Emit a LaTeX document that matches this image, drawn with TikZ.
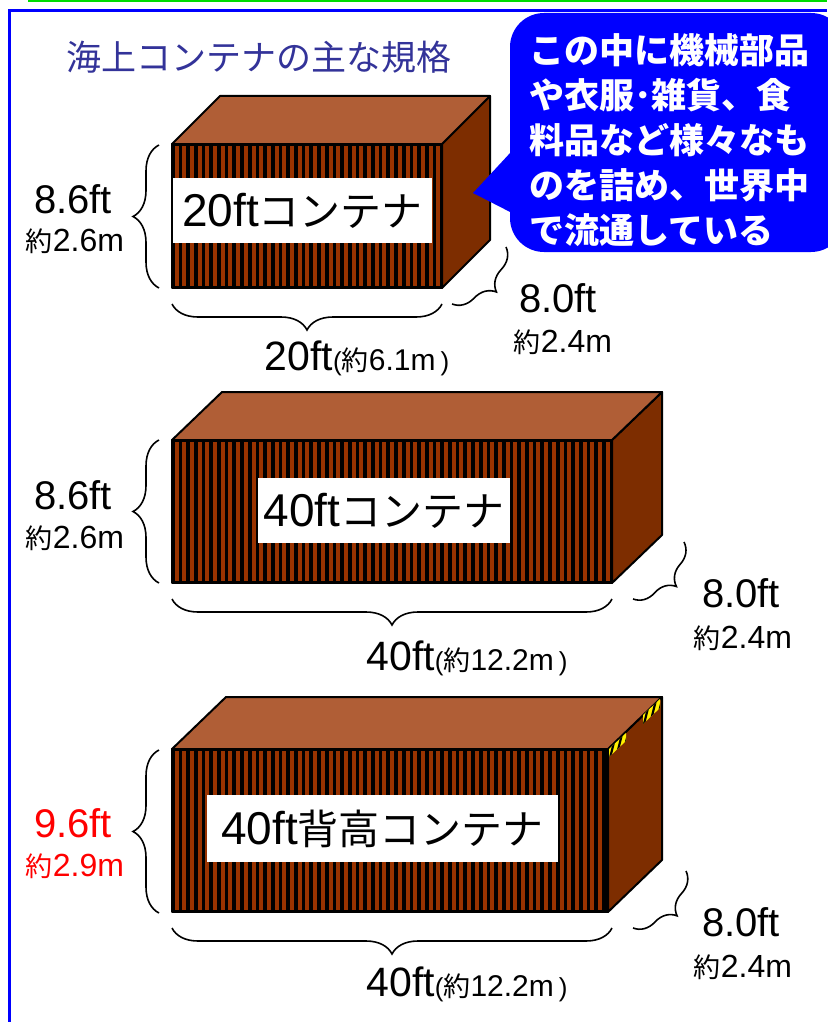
\documentclass[tikz,border=0pt]{standalone}
\usepackage{fontspec}
\setmainfont{Liberation Sans}
\newfontfamily\jp{Noto Sans CJK JP}
\usetikzlibrary{decorations.pathreplacing}

\definecolor{topbrown}{RGB}{176,94,54}
\definecolor{sidebrown}{RGB}{125,45,0}
\definecolor{ribbrown}{RGB}{153,51,0}
\definecolor{titleblue}{RGB}{51,51,153}
\definecolor{memoblue}{RGB}{0,0,255}
\definecolor{framegreen}{RGB}{0,220,0}
\definecolor{hazard}{RGB}{255,240,0}

\newcommand{\fsz}[1]{\fontsize{#1}{#1}\selectfont}

\begin{document}
\begin{tikzpicture}[x=1pt,y=-1pt,
	edge/.style={draw=black,line width=2pt,line join=round},
	topface/.style={edge,fill=topbrown},
	sideface/.style={edge,fill=sidebrown},
	rib/.style={fill=ribbrown},
	namebox/.style={fill=white,inner sep=0pt},
	dimbrace/.style={decorate,decoration={brace,amplitude=26pt},line width=1.6pt},
	depthbrace/.style={decorate,decoration={brace,amplitude=24pt},line width=1.6pt},
	bigtxt/.style={font=\fsz{40}},
	subtxt/.style={font=\fsz{32}}]
		\useasboundingbox (0,0) rectangle (827,1022);
		% Draw frame
		\draw [framegreen, line width=3pt] (28,1) -- (827,1);
		\draw [memoblue, line width=3pt] (827,11) -- (9.5,11) -- (9.5,1022);
		\node [font=\jp\fsz{35}, text=titleblue] (title) at (259,57) {海上コンテナの主な規格};

		% Draw 20ft container
		\coordinate (a1) at (172,144);
		\coordinate (c1) at (442,288);
		\draw [sideface] (442,144) -- ++(48,-48) -- ++(0,144) -- (c1) -- cycle;
		\draw [topface] (a1) -- ++(48,-48) -- ++(270,0) -- (442,144) -- cycle;
		\fill [black] (a1) rectangle (c1);
		\foreach \s in {0,...,34}
			\fill [rib] ({174.5+7.7*\s},146) rectangle ++(4,140);
		\draw [edge] (a1) rectangle (c1);
		\node [namebox, minimum width=259pt, minimum height=65pt] (n20) at (302.5,210.5)
			{\fsz{46}20ft{\jp\fsz{41}コンテナ}};

		% Draw 40ft container
		\coordinate (a2) at (172,440);
		\coordinate (c2) at (612,583);
		\draw [sideface] (612,440) -- ++(50,-48) -- ++(0,143) -- (c2) -- cycle;
		\draw [topface] (a2) -- ++(50,-48) -- ++(440,0) -- (612,440) -- cycle;
		\fill [black] (a2) rectangle (c2);
		\foreach \s in {0,...,56}
			\fill [rib] ({174.5+7.7*\s},442) rectangle ++(4,139);
		\draw [edge] (a2) rectangle (c2);
		\node [namebox, minimum width=252pt, minimum height=65pt] (n40) at (384,510.5)
			{\fsz{46}40ft{\jp\fsz{41}コンテナ}};

		% Draw 40ft high cube container
		\coordinate (a3) at (172,749);
		\coordinate (c3) at (608,912);
		\draw [sideface] (608,749) -- ++(54,-52) -- ++(0,163) -- (c3) -- cycle;
		\draw [topface] (a3) -- ++(54,-52) -- ++(436,0) -- (608,749) -- cycle;
		\fill [black] (a3) rectangle (c3);
		\foreach \s in {0,...,55}
			\fill [rib] ({174.5+7.7*\s},751) rectangle ++(4,159);
		\draw [edge] (a3) rectangle (c3);
		\node [namebox, minimum width=351pt, minimum height=67pt] (n40hc) at (382.5,828.5)
			{\fsz{46}40ft{\jp\fsz{41}背高コンテナ}};
		% hazard marks on the corner
		\begin{scope}
			\clip (609,749) -- (626,733) -- (626,741) -- (609,757) -- cycle;
			\fill [hazard] (600,725) rectangle (635,760);
			\foreach \s in {0,1,2}
				\draw [black, line width=2.2pt] ({609+6*\s},762) -- ({617+6*\s},730);
		\end{scope}
		\begin{scope}
			\clip (643,715) -- (660,699) -- (660,708) -- (643,724) -- cycle;
			\fill [hazard] (635,690) rectangle (665,730);
			\foreach \s in {0,1,2}
				\draw [black, line width=2.2pt] ({643+6*\s},728) -- ({651+6*\s},696);
		\end{scope}

		% Draw heights
		\draw [dimbrace] (159,288) -- (159,145);
		\node [bigtxt] (h20) at (73,199) {8.6ft};
		\node [subtxt] (hm20) at (75,241) {{\jp\fsz{27}約}2.6m};
		\draw [dimbrace] (159,583) -- (159,440);
		\node [bigtxt] (h40) at (73,495) {8.6ft};
		\node [subtxt] (hm40) at (75,538) {{\jp\fsz{27}約}2.6m};
		\draw [dimbrace] (159,913) -- (159,750);
		\node [bigtxt, red] (h40hc) at (73,823) {9.6ft};
		\node [subtxt, red] (hm40hc) at (75,866) {{\jp\fsz{27}約}2.9m};

		% Draw lengths
		\draw [dimbrace] (442,304) -- (172,304);
		\node [anchor=base] (w20) at (357,370)
			{\fsz{41}20ft{\fsz{26}(}{\jp\fsz{27}約}\fsz{30}6.1m\,{\fsz{26})}};
		\draw [dimbrace] (612,599) -- (172,599);
		\node [anchor=base] (w40) at (467,670)
			{\fsz{41}40ft{\fsz{26}(}{\jp\fsz{27}約}\fsz{30}12.2m\,{\fsz{26})}};
		\draw [dimbrace] (612,928) -- (172,928);
		\node [anchor=base] (w40hc) at (467,996)
			{\fsz{41}40ft{\fsz{26}(}{\jp\fsz{27}約}\fsz{30}12.2m\,{\fsz{26})}};

		% Draw widths
		\draw [depthbrace] (506,247) -- (452,304);
		\node [bigtxt] (d20) at (558,298) {8.0ft};
		\node [subtxt] (dm20) at (563,342) {{\jp\fsz{27}約}2.4m};
		\draw [depthbrace] (684,542) -- (633,599);
		\node [bigtxt] (d40) at (741,593) {8.0ft};
		\node [subtxt] (dm40) at (743,638) {{\jp\fsz{27}約}2.4m};
		\draw [depthbrace] (686,871) -- (633,928);
		\node [bigtxt] (d40hc) at (741,922) {8.0ft};
		\node [subtxt] (dm40hc) at (743,967) {{\jp\fsz{27}約}2.4m};

		% Draw callout
		\fill [memoblue, rounded corners=34pt] (510,13) rectangle (845,252);
		\fill [memoblue] (511,152) -- (473,193) -- (514,214) -- cycle;
		\node [anchor=north west, inner sep=0pt, align=left, text=white,
			font=\jp\bfseries\fontsize{35}{45}\selectfont] (memo) at (529,33)
			{この中に機械部品\\や衣服･雑貨、食\\料品など様々なも\\のを詰め、世界中\\で流通している};
	\end{tikzpicture}
\end{document}
